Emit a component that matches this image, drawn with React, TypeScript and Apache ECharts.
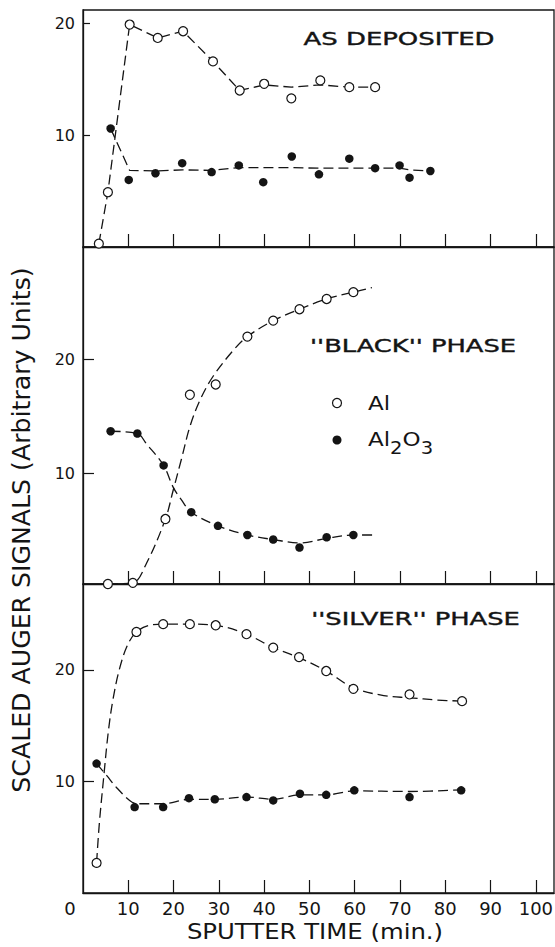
import React, { useEffect, useRef } from "react";
import * as echarts from "echarts";

// ---- axes ----
const xTickValues = [10, 20, 30, 40, 50, 60, 70, 80, 90, 100];
const xLabelValues = [0, 10, 20, 30, 40, 50, 60, 70, 80, 90, 100];
const yTickValues = [10, 20];

// ---- panel 1: AS DEPOSITED ----
const depAlX = [3.5, 5.5, 10.3, 16.5, 22.1, 28.7, 34.6, 40.0, 46.0, 52.4, 58.8, 64.5];
const depAlY = [0.3, 4.9, 19.9, 18.7, 19.3, 16.6, 14.0, 14.6, 13.3, 14.9, 14.3, 14.3];
const depOxX = [6.1, 10.1, 16.0, 21.9, 28.4, 34.4, 39.8, 46.1, 52.1, 58.8, 64.5, 69.9, 72.1, 76.7];
const depOxY = [10.6, 6.0, 6.6, 7.5, 6.7, 7.3, 5.8, 8.1, 6.5, 7.9, 7.05, 7.3, 6.2, 6.8];
const depAlCurve = [
  [3.5, 0.3], [5.5, 4.9], [10.3, 19.9], [16.5, 18.7], [22.1, 19.3], [28.7, 16.6],
  [34.6, 14.0], [40.0, 14.5], [46.0, 14.3], [52.4, 14.5], [58.8, 14.3], [64.5, 14.3],
];
const depOxCurve = [
  [6.1, 10.6], [10.3, 6.85], [16.0, 6.8], [22.0, 6.9], [28.4, 6.85], [34.4, 7.1],
  [40.0, 7.1], [46.0, 7.1], [52.0, 7.05], [58.8, 7.05], [64.5, 7.05], [69.9, 7.05],
  [72.1, 6.9], [76.7, 6.8],
];

// ---- panel 2: "BLACK" PHASE ----
const blkAlX = [5.5, 11.0, 18.2, 23.6, 29.3, 36.3, 42.0, 47.8, 53.8, 59.7];
const blkAlY = [0.3, 0.4, 6.0, 16.9, 17.8, 22.0, 23.4, 24.4, 25.3, 25.9];
const blkOxX = [6.1, 12.0, 17.8, 23.9, 29.8, 36.3, 42.0, 47.8, 53.8, 59.7];
const blkOxY = [13.7, 13.5, 10.7, 6.6, 5.4, 4.6, 4.2, 3.5, 4.4, 4.6];
const blkAlCurve = [
  [5.5, 0.3], [11.0, 0.4], [14.0, 2.1], [18.2, 6.0], [19.9, 8.5], [21.7, 11.2],
  [23.6, 14.1], [25.8, 16.4], [28.7, 18.5], [33.2, 20.8], [36.3, 22.0], [42.0, 23.4],
  [47.8, 24.4], [53.8, 25.3], [59.7, 25.9], [63.8, 26.3],
];
const blkOxCurve = [
  [6.1, 13.7], [12.0, 13.5], [14.0, 12.6], [17.8, 10.7], [19.9, 8.8], [21.7, 7.7],
  [23.9, 6.6], [29.8, 5.4], [36.3, 4.6], [42.0, 4.2], [47.8, 3.9], [53.8, 4.3],
  [59.7, 4.6], [64.2, 4.6],
];

// ---- panel 3: "SILVER" PHASE ----
const silAlX = [3.0, 11.8, 17.7, 23.6, 29.3, 36.1, 42.0, 47.7, 53.7, 59.7, 72.1, 83.7];
const silAlY = [2.7, 23.4, 24.1, 24.1, 24.0, 23.2, 22.0, 21.15, 19.9, 18.3, 17.8, 17.2];
const silOxX = [3.0, 11.4, 17.7, 23.4, 29.1, 36.1, 42.0, 47.9, 53.7, 59.9, 72.1, 83.5];
const silOxY = [11.6, 7.7, 7.7, 8.5, 8.4, 8.6, 8.3, 8.9, 8.8, 9.2, 8.6, 9.2];
const silAlCurve = [
  [3.0, 2.7], [3.6, 6.2], [4.6, 10.5], [5.6, 14.5], [6.6, 17.3], [8.0, 20.0],
  [9.8, 22.2], [11.8, 23.4], [14.7, 24.0], [17.7, 24.1], [23.6, 24.1], [29.3, 24.0],
  [36.1, 23.2], [42.0, 22.0], [47.7, 21.1], [53.7, 19.9], [59.7, 18.4], [66.4, 17.7],
  [72.1, 17.5], [78.2, 17.3], [83.7, 17.2],
];
const silOxCurve = [
  [3.0, 11.6], [5.3, 10.5], [7.3, 9.5], [10.3, 8.3], [12.0, 8.0], [17.7, 8.0],
  [23.4, 8.4], [29.1, 8.4], [36.1, 8.6], [42.0, 8.4], [47.9, 8.8], [53.7, 8.8],
  [59.9, 9.15], [72.1, 9.1], [83.5, 9.25],
];

const panelTitles = ["AS DEPOSITED", "''BLACK'' PHASE", "''SILVER'' PHASE"];
const xTitle = "SPUTTER TIME (min.)";
const yTitle = "SCALED AUGER SIGNALS (Arbitrary Units)";

const INK = "#141414";
const FONT = "DejaVu Sans";

const pairs = (xs: number[], ys: number[]) => xs.map((x, i) => [x, ys[i]]);

export default function App() {
  const ref = useRef<HTMLDivElement>(null);

  useEffect(() => {
    const chart = echarts.init(ref.current!, null, { renderer: "svg" });

    const gridDefs = [
      { top: 10, height: 237 },
      { top: 247, height: 337 },
      { top: 584, height: 309 },
    ];
    const yRanges = [
      [0, 21.2],
      [0.3, 29.86],
      [0, 27.7],
    ];
    const yTickLen = [7, 11, 11];

    const grid = gridDefs.map((g) => ({
      left: 83,
      right: 1,
      top: g.top,
      height: g.height,
      show: true,
      borderColor: INK,
      borderWidth: 1.3,
      backgroundColor: "transparent",
      containLabel: false,
      outerBoundsMode: "none",
    }));

    const xAxis = [0, 1, 2].map((i) => ({
      type: "value",
      gridIndex: i,
      min: 0,
      max: 104,
      axisLine: { show: true, onZero: false, lineStyle: { color: INK, width: 1.3 } },
      axisTick: {
        show: true,
        inside: true,
        length: 13,
        customValues: xTickValues,
        lineStyle: { color: INK, width: 1.2 },
      },
      axisLabel:
        i === 2
          ? {
              show: true,
              customValues: xLabelValues,
              color: INK,
              fontSize: 18,
              fontFamily: FONT,
              margin: 6,
              formatter: (v: number) => (v === 0 ? "{z|0}" : String(v)),
              rich: {
                z: { fontSize: 18, fontFamily: FONT, color: INK, padding: [0, 26, 0, 0] },
              },
            }
          : { show: false },
      splitLine: { show: false },
    }));

    const yAxis = [0, 1, 2].map((i) => ({
      type: "value",
      gridIndex: i,
      min: yRanges[i][0],
      max: yRanges[i][1],
      axisLine: { show: true, onZero: false, lineStyle: { color: INK, width: 1.3 } },
      axisTick: {
        show: true,
        inside: true,
        length: yTickLen[i],
        customValues: yTickValues,
        lineStyle: { color: INK, width: 1.2 },
      },
      axisLabel: {
        show: true,
        customValues: yTickValues,
        color: INK,
        fontSize: 16,
        fontFamily: FONT,
        margin: 8,
      },
      splitLine: { show: false },
    }));

    const curves = [
      { al: depAlCurve, ox: depOxCurve, smooth: false },
      { al: blkAlCurve, ox: blkOxCurve, smooth: 0.35 },
      { al: silAlCurve, ox: silOxCurve, smooth: 0.35 },
    ];
    const points = [
      { al: pairs(depAlX, depAlY), ox: pairs(depOxX, depOxY) },
      { al: pairs(blkAlX, blkAlY), ox: pairs(blkOxX, blkOxY) },
      { al: pairs(silAlX, silAlY), ox: pairs(silOxX, silOxY) },
    ];

    const lineStyle = { color: INK, width: 1.3, type: [10, 5] };
    const series: any[] = [];
    [0, 1, 2].forEach((i) => {
      series.push({
        type: "line",
        name: "Al",
        xAxisIndex: i,
        yAxisIndex: i,
        data: curves[i].al,
        symbol: "none",
        smooth: curves[i].smooth,
        lineStyle,
        silent: true,
        z: 2,
      });
      series.push({
        type: "line",
        name: "Al2O3",
        xAxisIndex: i,
        yAxisIndex: i,
        data: curves[i].ox,
        symbol: "none",
        smooth: curves[i].smooth,
        lineStyle,
        silent: true,
        z: 2,
      });
      series.push({
        type: "scatter",
        name: "Al",
        xAxisIndex: i,
        yAxisIndex: i,
        data: points[i].al,
        symbol: "circle",
        symbolSize: 9,
        itemStyle: { color: "#ffffff", borderColor: INK, borderWidth: 1.2, opacity: 1 },
        z: 3,
      });
      series.push({
        type: "scatter",
        name: "Al2O3",
        xAxisIndex: i,
        yAxisIndex: i,
        data: points[i].ox,
        symbol: "circle",
        symbolSize: 8.5,
        itemStyle: { color: INK, opacity: 1 },
        z: 3,
      });
    });

    const titleStyle = (text: string) => ({
      text,
      font: `18px "${FONT}"`,
      fill: INK,
      stroke: INK,
      lineWidth: 0.4,
      align: "center",
      verticalAlign: "middle",
    });

    const graphic: any[] = [
      { type: "text", x: 399, y: 38.5, scaleX: 1.44, style: titleStyle(panelTitles[0]), z: 10 },
      { type: "text", x: 413, y: 346, scaleX: 1.43, style: titleStyle(panelTitles[1]), z: 10 },
      { type: "text", x: 415.5, y: 619, scaleX: 1.43, style: titleStyle(panelTitles[2]), z: 10 },
      {
        type: "text",
        x: 315,
        y: 932,
        scaleX: 1.16,
        style: {
          text: xTitle,
          font: `21px "${FONT}"`,
          fill: INK,
          align: "center",
          verticalAlign: "middle",
        },
      },
      {
        type: "text",
        x: 22,
        y: 530,
        rotation: Math.PI / 2,
        scaleX: 1.05,
        style: {
          text: yTitle,
          font: `24px "${FONT}"`,
          fill: INK,
          align: "center",
          verticalAlign: "middle",
        },
      },
      // legend
      {
        type: "circle",
        shape: { cx: 337, cy: 403, r: 4.5 },
        style: { fill: "#ffffff", stroke: INK, lineWidth: 1.2 },
        z: 10,
      },
      {
        type: "circle",
        shape: { cx: 337, cy: 440, r: 4.5 },
        style: { fill: INK },
        z: 10,
      },
      {
        type: "text",
        x: 368,
        y: 403,
        scaleX: 1.15,
        style: {
          text: "Al",
          font: `20px "${FONT}"`,
          fill: INK,
          align: "left",
          verticalAlign: "middle",
        },
        z: 10,
      },
      {
        type: "text",
        x: 368,
        y: 439,
        scaleX: 1.15,
        style: {
          text: "{n|Al}{s|2}{n|O}{s|3}",
          fill: INK,
          align: "left",
          verticalAlign: "middle",
          rich: {
            n: { fontSize: 20, fontFamily: FONT, fill: INK, lineHeight: 34, verticalAlign: "middle" },
            s: { fontSize: 17, fontFamily: FONT, fill: INK, lineHeight: 16, verticalAlign: "bottom" },
          },
        },
        z: 10,
      },
    ];

    chart.setOption({
      animation: false,
      backgroundColor: "#ffffff",
      grid,
      xAxis,
      yAxis,
      series,
      graphic,
    });

    return () => {
      chart.dispose();
    };
  }, []);

  return (
    <div
      ref={ref}
      style={{ position: "absolute", left: 0, top: 0, width: 555, height: 947, background: "#fff" }}
    />
  );
}
